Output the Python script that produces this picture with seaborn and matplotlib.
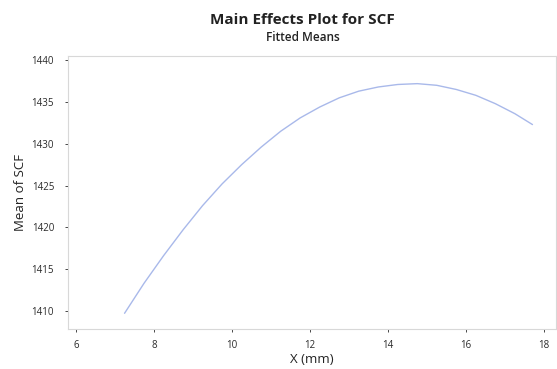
import matplotlib
matplotlib.use("Agg")
import matplotlib.pyplot as plt
import seaborn as sns
import pandas as pd

# fitted means
x_mm = [7.25, 7.75, 8.25, 8.75, 9.25, 9.75, 10.25, 10.75, 11.25, 11.75, 12.25,
        12.75, 13.25, 13.75, 14.25, 14.75, 15.25, 15.75, 16.25, 16.75, 17.25, 17.7]
mean_scf = [1409.7, 1413.3, 1416.6, 1419.7, 1422.6, 1425.2, 1427.5, 1429.6, 1431.5,
            1433.1, 1434.4, 1435.5, 1436.3, 1436.8, 1437.1, 1437.2, 1437.0, 1436.5,
            1435.8, 1434.8, 1433.6, 1432.3]

df = pd.DataFrame({"X (mm)": x_mm, "Mean of SCF": mean_scf})

sns.set_style("white")
plt.rcParams['font.family'] = ['Open Sans', 'DejaVu Sans']

fig = plt.figure(figsize=(5.57, 3.69), dpi=100)
ax = fig.add_axes([0.122, 0.108, 0.876, 0.74])
sns.lineplot(data=df, x="X (mm)", y="Mean of SCF", color="#a9b9ea", linewidth=1.0, ax=ax)

ax.set_xlim(5.8, 18.3)
ax.set_ylim(1407.8, 1440.5)
ax.set_xticks([6, 8, 10, 12, 14, 16, 18])
ax.set_yticks([1410, 1415, 1420, 1425, 1430, 1435, 1440])
ax.tick_params(axis="both", labelsize=7, colors="#2a2a2a", length=2, width=0.6, direction="out")
ax.tick_params(axis="x", bottom=True, pad=6)
ax.tick_params(axis="y", left=True, pad=8)
for s in ax.spines.values():
    s.set_color("#d8d8d8")
    s.set_linewidth(0.8)
ax.set_xlabel("X (mm)", fontsize=9.5, color="#222222", labelpad=1)
ax.set_ylabel("Mean of SCF", fontsize=9.5, color="#222222", labelpad=3)

fig.text(0.543, 0.935, "Main Effects Plot for SCF", ha="center", fontsize=11, fontweight="bold", color="#222222")
fig.text(0.543, 0.888, "Fitted Means", ha="center", fontsize=8.5, fontweight="semibold", color="#222222")

fig.savefig("out.png", dpi=100)
